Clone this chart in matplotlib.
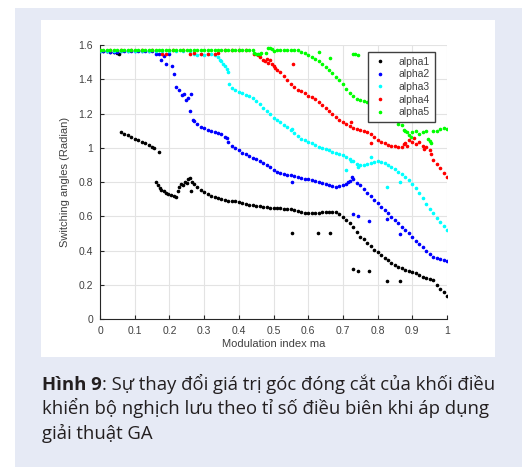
import matplotlib.pyplot as plt
from matplotlib.patches import Rectangle

# ---- data ----
ma1 = [0.0, 0.01, 0.02, 0.03, 0.04, 0.05, 0.055,
       0.06, 0.07, 0.08, 0.09, 0.10, 0.11, 0.12, 0.13, 0.14, 0.15, 0.157, 0.171,
       0.162, 0.167, 0.172, 0.177, 0.183, 0.19, 0.197, 0.205, 0.212, 0.219,
       0.224, 0.229, 0.234, 0.24, 0.245, 0.25, 0.254, 0.258, 0.261, 0.266,
       0.27, 0.28, 0.29, 0.30, 0.31, 0.32, 0.33, 0.34, 0.35, 0.36, 0.37, 0.38, 0.39,
       0.40, 0.41, 0.42, 0.43, 0.44, 0.45, 0.46, 0.47, 0.48, 0.49, 0.50, 0.51, 0.52,
       0.53, 0.54, 0.55, 0.56, 0.57, 0.58, 0.59, 0.60, 0.61, 0.62, 0.63, 0.64, 0.65,
       0.66, 0.67, 0.68, 0.69, 0.70, 0.71, 0.72, 0.73, 0.74, 0.75, 0.76, 0.77, 0.78,
       0.79, 0.80, 0.81, 0.82, 0.83, 0.84, 0.85, 0.86, 0.87, 0.88, 0.89, 0.90, 0.91,
       0.92, 0.93, 0.94, 0.95, 0.96, 0.97, 0.98, 0.99, 1.00,
       0.554, 0.628, 0.663, 0.729, 0.743, 0.774, 0.826, 0.864]
alpha1 = [1.567, 1.565, 1.565, 1.562, 1.56, 1.553, 1.548,
          1.09, 1.081, 1.072, 1.062, 1.053, 1.044, 1.035, 1.025, 1.016, 1.006, 1.0, 0.973,
          0.80, 0.78, 0.765, 0.755, 0.745, 0.735, 0.728, 0.722, 0.718, 0.715,
          0.75, 0.77, 0.79, 0.785, 0.80, 0.795, 0.815, 0.822, 0.745, 0.80,
          0.79, 0.772, 0.755, 0.742, 0.73, 0.72, 0.712, 0.705, 0.70, 0.695, 0.69, 0.688, 0.688,
          0.684, 0.678, 0.673, 0.668, 0.663, 0.66, 0.657, 0.654, 0.652, 0.65, 0.648, 0.647, 0.646,
          0.644, 0.643, 0.64, 0.634, 0.628, 0.622, 0.619, 0.617, 0.617, 0.618, 0.621, 0.624, 0.626,
          0.627, 0.626, 0.622, 0.612, 0.598, 0.58, 0.56, 0.54, 0.51, 0.48, 0.465, 0.445, 0.425,
          0.405, 0.39, 0.372, 0.355, 0.342, 0.328, 0.315, 0.305, 0.295, 0.285, 0.28, 0.272, 0.268,
          0.255, 0.245, 0.24, 0.235, 0.228, 0.20, 0.175, 0.155, 0.135,
          0.50, 0.50, 0.50, 0.29, 0.28, 0.28, 0.22, 0.22]

ma2 = [0.0, 0.01, 0.02, 0.03, 0.04, 0.05, 0.06, 0.07, 0.08, 0.09, 0.10, 0.11, 0.12, 0.13, 0.14, 0.15,
       0.16, 0.17, 0.176, 0.185, 0.19, 0.20, 0.207, 0.212, 0.22, 0.229, 0.236, 0.243, 0.248,
       0.253, 0.262, 0.258, 0.267,
       0.27, 0.28, 0.29, 0.30, 0.31, 0.32, 0.33, 0.34, 0.35, 0.36, 0.365, 0.37, 0.38, 0.39,
       0.40, 0.41, 0.42, 0.43, 0.44, 0.45, 0.46, 0.47, 0.48, 0.49, 0.50, 0.51, 0.52, 0.53,
       0.54, 0.55, 0.56, 0.57, 0.58, 0.59, 0.60, 0.61, 0.62, 0.63, 0.64, 0.65, 0.66, 0.67,
       0.68, 0.69, 0.70, 0.71, 0.715, 0.72, 0.725, 0.73, 0.74, 0.75, 0.76, 0.77, 0.78, 0.79,
       0.80, 0.81, 0.82, 0.83, 0.84, 0.85, 0.86, 0.87, 0.88, 0.89, 0.90, 0.91, 0.92, 0.93,
       0.94, 0.95, 0.96, 0.97, 0.98, 0.99, 1.00,
       0.554, 0.729, 0.743, 0.774, 0.826, 0.864]
alpha2 = [1.565, 1.563, 1.563, 1.56, 1.558, 1.56, 1.565, 1.565, 1.565, 1.565, 1.565, 1.565, 1.565, 1.565, 1.565, 1.565,
          1.545, 1.55, 1.51, 1.535, 1.49, 1.545, 1.48, 1.43, 1.355, 1.335, 1.307, 1.315, 1.278,
          1.29, 1.313, 1.215, 1.161,
          1.155, 1.138, 1.124, 1.113, 1.105, 1.099, 1.092, 1.085, 1.078, 1.065, 1.055, 1.035, 1.01, 0.996,
          0.985, 0.972, 0.962, 0.952, 0.942, 0.933, 0.923, 0.913, 0.90, 0.885, 0.868, 0.858, 0.85, 0.846,
          0.842, 0.838, 0.833, 0.83, 0.826, 0.82, 0.816, 0.811, 0.806, 0.80, 0.795, 0.79, 0.783, 0.776,
          0.773, 0.775, 0.782, 0.79, 0.798, 0.805, 0.83, 0.815, 0.795, 0.78, 0.76, 0.738, 0.718, 0.697,
          0.675, 0.656, 0.635, 0.617, 0.598, 0.578, 0.558, 0.538, 0.518, 0.50, 0.478, 0.458, 0.438, 0.418,
          0.40, 0.38, 0.362, 0.355, 0.348, 0.342, 0.336,
          0.798, 0.614, 0.604, 0.573, 0.584, 0.497]

ma3 = [0.0, 0.02, 0.04, 0.06, 0.08, 0.10, 0.12, 0.14, 0.16, 0.18, 0.20, 0.22, 0.24, 0.26,
       0.272, 0.28, 0.29, 0.30, 0.31, 0.32, 0.33, 0.34, 0.345, 0.35, 0.355, 0.36, 0.365, 0.37,
       0.373, 0.38, 0.39, 0.40, 0.41, 0.42, 0.43, 0.44, 0.45, 0.46, 0.47, 0.48, 0.49, 0.50,
       0.51, 0.52, 0.53, 0.54, 0.55, 0.56, 0.57, 0.58, 0.59, 0.60, 0.61, 0.62, 0.63, 0.64,
       0.65, 0.66, 0.67, 0.68, 0.69, 0.70, 0.71, 0.72, 0.73, 0.74, 0.75, 0.76, 0.77, 0.78,
       0.79, 0.80, 0.81, 0.82, 0.83, 0.84, 0.85, 0.86, 0.87, 0.88, 0.89, 0.90, 0.91, 0.92,
       0.93, 0.94, 0.95, 0.96, 0.97, 0.98, 0.99, 1.00,
       0.554, 0.71, 0.724, 0.743, 0.78, 0.826, 0.864]
alpha3 = [1.565, 1.565, 1.565, 1.565, 1.565, 1.565, 1.565, 1.565, 1.565, 1.565, 1.565, 1.565, 1.565, 1.565,
          1.545, 1.54, 1.545, 1.54, 1.55, 1.545, 1.54, 1.53, 1.515, 1.505, 1.49, 1.475, 1.46, 1.445,
          1.375, 1.35, 1.335, 1.325, 1.318, 1.31, 1.30, 1.29, 1.275, 1.255, 1.235, 1.215, 1.195, 1.172,
          1.16, 1.148, 1.135, 1.12, 1.103, 1.085, 1.068, 1.05, 1.043, 1.035, 1.025, 1.015, 1.005, 0.998,
          0.99, 0.985, 0.978, 0.972, 0.964, 0.955, 0.945, 0.932, 0.92, 0.908, 0.90, 0.902, 0.908, 0.912,
          0.918, 0.92, 0.918, 0.912, 0.90, 0.888, 0.875, 0.86, 0.845, 0.83, 0.81, 0.79, 0.765, 0.735,
          0.705, 0.67, 0.645, 0.618, 0.592, 0.568, 0.545, 0.517,
          1.107, 0.87, 0.92, 0.885, 0.948, 0.773, 0.802]

ma4 = [0.0, 0.03, 0.06, 0.09, 0.12, 0.15, 0.18, 0.19, 0.21, 0.24, 0.26, 0.27, 0.29, 0.31,
       0.33, 0.34, 0.36, 0.38, 0.40, 0.42,
       0.445, 0.455, 0.46, 0.47, 0.475, 0.48, 0.485, 0.49, 0.495, 0.50,
       0.505, 0.51, 0.52, 0.53, 0.54, 0.55, 0.56, 0.57, 0.58, 0.59, 0.60, 0.61, 0.62, 0.63,
       0.64, 0.65, 0.66, 0.67, 0.68, 0.69, 0.70, 0.71, 0.72, 0.73, 0.74, 0.75, 0.76, 0.77,
       0.78, 0.79, 0.80, 0.81, 0.82, 0.83, 0.84, 0.85, 0.86, 0.87, 0.875, 0.88, 0.885, 0.89,
       0.90, 0.905, 0.91, 0.92, 0.93, 0.935, 0.94, 0.95, 0.955, 0.96, 0.97, 0.98, 0.99, 1.00,
       0.555, 0.78, 0.724]
alpha4 = [1.568, 1.568, 1.568, 1.568, 1.568, 1.568, 1.55, 1.545, 1.568, 1.568, 1.55, 1.553, 1.545, 1.55,
          1.545, 1.555, 1.568, 1.568, 1.568, 1.568,
          1.545, 1.54, 1.53, 1.51, 1.505, 1.52, 1.495, 1.515, 1.49, 1.475,
          1.465, 1.455, 1.44, 1.42, 1.395, 1.37, 1.352, 1.34, 1.33, 1.318, 1.305, 1.295, 1.283, 1.268,
          1.25, 1.235, 1.215, 1.198, 1.18, 1.162, 1.148, 1.138, 1.128, 1.118, 1.112, 1.106, 1.098, 1.09,
          1.08, 1.062, 1.048, 1.036, 1.026, 1.018, 1.012, 1.008, 1.006, 1.005, 1.02, 1.03, 1.01, 1.045,
          1.035, 1.055, 1.02, 1.035, 1.01, 0.995, 1.005, 0.985, 0.965, 0.93, 0.905, 0.88, 0.855, 0.831,
          1.49, 1.025, 1.15]

ma5 = [0.0, 0.01, 0.02, 0.03, 0.04, 0.05, 0.06, 0.07, 0.08, 0.09, 0.10, 0.11, 0.12, 0.13, 0.14,
       0.15, 0.16, 0.17, 0.18, 0.19, 0.20, 0.21, 0.22, 0.23, 0.24, 0.25, 0.26, 0.27, 0.28, 0.29,
       0.30, 0.31, 0.32, 0.33, 0.34, 0.35, 0.36, 0.37, 0.38, 0.39, 0.40, 0.41, 0.42, 0.43, 0.44,
       0.445, 0.45, 0.455, 0.46, 0.465, 0.478, 0.485, 0.49, 0.495, 0.50,
       0.51, 0.52, 0.53, 0.54, 0.55, 0.56,
       0.57, 0.58, 0.59, 0.60, 0.61, 0.62, 0.63, 0.64, 0.65, 0.66, 0.67, 0.68, 0.69, 0.70,
       0.71, 0.72, 0.73, 0.74, 0.75, 0.76, 0.77, 0.78, 0.79, 0.80, 0.81, 0.82, 0.83, 0.84,
       0.85, 0.86, 0.87, 0.875, 0.88, 0.885, 0.89, 0.895, 0.90, 0.91, 0.92, 0.93, 0.94, 0.945,
       0.95, 0.955, 0.96, 0.97, 0.98, 0.99, 1.00,
       0.63, 0.663, 0.729, 0.736, 0.743]
alpha5 = [1.572] * 45 + \
         [1.555, 1.55, 1.548, 1.55, 1.555, 1.555, 1.58, 1.585, 1.575, 1.565,
          1.572, 1.572, 1.572, 1.572, 1.572, 1.572,
          1.57, 1.562, 1.552, 1.542, 1.53, 1.52, 1.505, 1.49, 1.472, 1.455, 1.435, 1.415, 1.395, 1.375,
          1.345, 1.318, 1.30, 1.285, 1.278, 1.272, 1.265, 1.258, 1.25, 1.24, 1.23, 1.215, 1.20, 1.18,
          1.16, 1.14, 1.13, 1.105, 1.10, 1.09, 1.074, 1.06, 1.09, 1.10, 1.08, 1.09, 1.10, 1.05,
          1.04, 1.03, 1.095, 1.10, 1.11, 1.113, 1.107,
          1.559, 1.526, 1.546, 1.548, 1.544]

series = [(ma1, alpha1, '#000000', 'alpha1'), (ma2, alpha2, '#0000ff', 'alpha2'),
          (ma3, alpha3, '#00ffff', 'alpha3'), (ma4, alpha4, '#ff0000', 'alpha4'),
          (ma5, alpha5, '#00ff00', 'alpha5')]

xticks = [0, 0.1, 0.2, 0.3, 0.4, 0.5, 0.6, 0.7, 0.8, 0.9, 1]
xticklabels = ['0', '0.1', '0.2', '0.3', '0.4', '0.5', '0.6', '0.7', '0.8', '0.9', '1']
yticks = [0, 0.2, 0.4, 0.6, 0.8, 1.0, 1.2, 1.4, 1.6]
yticklabels = ['0', '0.2', '0.4', '0.6', '0.8', '1', '1.2', '1.4', '1.6']

caption_bold = 'Hình 9'
caption_line1 = ': Sự thay đổi giá trị góc đóng cắt của khối điều'
caption_line2 = 'khiển bộ nghịch lưu theo tỉ số điều biên khi áp dụng'
caption_line3 = 'giải thuật GA'

W, H = 522, 470
fig = plt.figure(figsize=(W / 100, H / 100), dpi=100)

# panel + white picture area (pixel coords from top-left)
def px_rect(x0, y0, x1, y1, color):
    fig.patches.append(Rectangle((x0 / W, 1 - y1 / H), (x1 - x0) / W, (y1 - y0) / H,
                                 transform=fig.transFigure, color=color, zorder=-5, lw=0))

px_rect(15, 8, 522, 467, '#e6eaf5')
px_rect(41, 20, 495, 357, 'white')

ax = fig.add_axes([100 / W, 1 - 319 / H, 347 / W, 274 / H])
ax.set_zorder(5)
ax.set_facecolor('white')
for xs, ys, c, lab in series:
    ax.plot(xs, ys, '.', color=c, ms=3.2, label=lab, zorder=3)

ax.set_xlim(0, 1)
ax.set_ylim(0, 1.6)
ax.set_xticks(xticks)
ax.set_xticklabels(xticklabels)
ax.set_yticks(yticks)
ax.set_yticklabels(yticklabels)
ax.grid(True, color='#e3e3e3', lw=0.8)
ax.set_axisbelow(True)
for s in ['top', 'right']:
    ax.spines[s].set_visible(False)
for s in ['left', 'bottom']:
    ax.spines[s].set_color('#262626')
    ax.spines[s].set_linewidth(0.8)
ax.tick_params(direction='in', length=3, width=0.8, color='#262626',
               labelsize=7.5, labelcolor='#404040', pad=5)
for t in ax.get_xticklabels() + ax.get_yticklabels():
    t.set_family('Liberation Sans')

ax.set_xlabel('Modulation index ma', fontsize=8, color='#404040',
              family='Liberation Sans', labelpad=2)
ax.set_ylabel('Switching angles (Radian)', fontsize=8, color='#404040',
              family='Liberation Sans', labelpad=6)

leg = ax.legend(loc='upper right', bbox_to_anchor=(0.98, 0.995),
                frameon=True, fancybox=False, framealpha=1, edgecolor='#404040',
                handlelength=1.2, handletextpad=1.2, labelspacing=0.25,
                borderpad=0.5, markerscale=1.0, prop={'family': 'Liberation Sans', 'size': 7.5})
leg.get_frame().set_linewidth(1.0)
for t in leg.get_texts():
    t.set_color('#404040')

# caption
cap_font = ['Open Sans', 'DejaVu Sans']
cap_size = 13.3
cap_color = '#231f20'
b = fig.text(42 / W, 1 - 390 / H, caption_bold, fontsize=cap_size, fontweight='bold',
             family=cap_font, color=cap_color, va='baseline')
fig.canvas.draw()
bb = b.get_window_extent()
fig.text(bb.x1 / W, 1 - 390 / H, caption_line1, fontsize=cap_size,
         family=cap_font, color=cap_color, va='baseline')
fig.text(42 / W, 1 - 414.5 / H, caption_line2, fontsize=cap_size,
         family=cap_font, color=cap_color, va='baseline')
fig.text(42 / W, 1 - 439 / H, caption_line3, fontsize=cap_size,
         family=cap_font, color=cap_color, va='baseline')

fig.savefig('out.png', dpi=100)
